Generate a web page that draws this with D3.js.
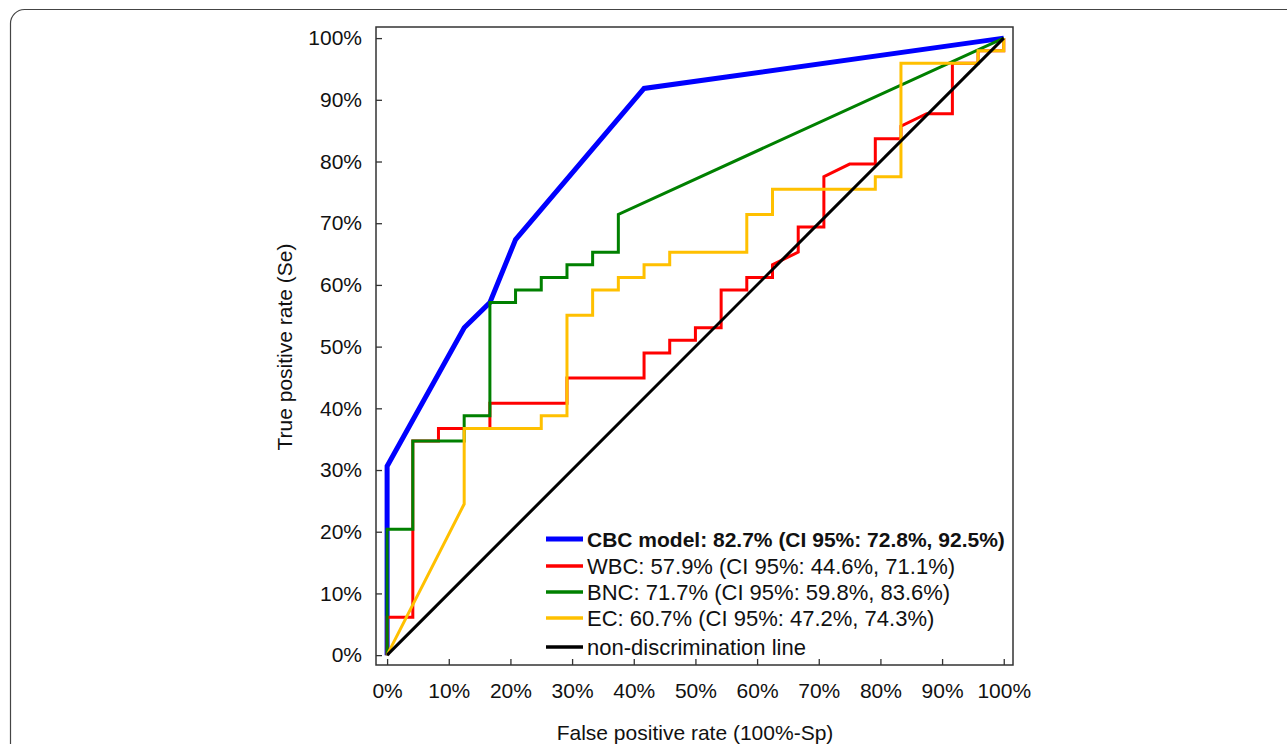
<!DOCTYPE html>
<html>
<head>
<meta charset="utf-8">
<script src="https://cdn.jsdelivr.net/npm/d3@7"></script>
<style>
  body { margin: 0; background: #fff; }
  svg { display: block; font-family: "Liberation Sans", Arial, sans-serif; }
</style>
</head>
<body>
<svg id="chart" width="1287" height="744"></svg>
<script>
// ROC curves, values in percent: [false positive rate, true positive rate]
const cbc = [[0,0],[0,30.61],[12.5,53.06],[16.67,57.14],[20.83,67.35],[41.67,91.84],[100,100]];

const wbc = [[0,0],[0,6.12],[4.17,6.12],[4.17,34.69],[8.33,34.69],[8.33,36.73],[16.67,36.73],
  [16.67,40.82],[29.17,40.82],[29.17,44.9],[41.67,44.9],[41.67,48.98],[45.83,48.98],[45.83,51.02],
  [50,51.02],[50,53.06],[54.17,53.06],[54.17,59.18],[58.33,59.18],[58.33,61.22],[62.5,61.22],
  [62.5,63.27],[66.67,65.31],[66.67,69.39],[70.83,69.39],[70.83,77.55],[75,79.59],[79.17,79.59],
  [79.17,83.67],[83.33,83.67],[83.33,85.71],[87.5,87.76],[91.67,87.76],[91.67,95.92],[95.83,95.92],
  [95.83,97.96],[100,97.96],[100,100]];

const bnc = [[0,0],[0,20.41],[4.17,20.41],[4.17,34.69],[12.5,34.69],[12.5,38.78],[16.67,38.78],
  [16.67,57.14],[20.83,57.14],[20.83,59.18],[25,59.18],[25,61.22],[29.17,61.22],[29.17,63.27],
  [33.33,63.27],[33.33,65.31],[37.5,65.31],[37.5,71.43],[100,100]];

const ec = [[0,0],[12.5,24.49],[12.5,36.73],[25,36.73],[25,38.78],[29.17,38.78],[29.17,55.1],
  [33.33,55.1],[33.33,59.18],[37.5,59.18],[37.5,61.22],[41.67,61.22],[41.67,63.27],[45.83,63.27],
  [45.83,65.31],[58.33,65.31],[58.33,71.43],[62.5,71.43],[62.5,75.51],[79.17,75.51],[79.17,77.55],
  [83.33,77.55],[83.33,95.92],[95.83,95.92],[95.83,97.96],[100,97.96],[100,100]];

const chance = [[0,0],[100,100]];

const tickValues = [0,10,20,30,40,50,60,70,80,90,100];

const seriesNames = ["CBC model: 82.7% (CI 95%: 72.8%, 92.5%)",
  "WBC: 57.9% (CI 95%: 44.6%, 71.1%)",
  "BNC: 71.7% (CI 95%: 59.8%, 83.6%)",
  "EC: 60.7% (CI 95%: 47.2%, 74.3%)",
  "non-discrimination line"];
const seriesColors = ["#0000ff", "#ff0000", "#008000", "#ffc000", "#000000"];

const svg = d3.select("#chart");

// outer card border
svg.append("rect")
  .attr("x", 10.5).attr("y", 9.5)
  .attr("width", 1300).attr("height", 800)
  .attr("rx", 14)
  .attr("fill", "none")
  .attr("stroke", "#444")
  .attr("stroke-width", 1.2);

const x = d3.scaleLinear().domain([-1.8, 101.5]).range([376, 1013]);
const y = d3.scaleLinear().domain([-1.6, 101.8]).range([665, 27]);

// frame
svg.append("rect")
  .attr("x", x(-1.8)).attr("y", y(101.8))
  .attr("width", x(101.5) - x(-1.8))
  .attr("height", y(-1.6) - y(101.8))
  .attr("fill", "none")
  .attr("stroke", "#333")
  .attr("stroke-width", 1.5);

// axes with inward ticks
const xAxis = svg.append("g")
  .attr("transform", `translate(0, ${y(-1.6)})`)
  .call(d3.axisTop(x).tickValues(tickValues).tickSize(6).tickFormat(d => d + "%"));
xAxis.select(".domain").remove();
xAxis.selectAll("line").attr("stroke", "#333").attr("stroke-width", 1.3);
xAxis.selectAll("text")
  .attr("y", 33)
  .attr("font-size", 21)
  .attr("fill", "#111")
  .attr("font-family", "Liberation Sans, Arial, sans-serif");

const yAxis = svg.append("g")
  .attr("transform", `translate(${x(-1.8)}, 0)`)
  .call(d3.axisRight(y).tickValues(tickValues).tickSize(6).tickFormat(d => d + "%"));
yAxis.select(".domain").remove();
yAxis.selectAll("line").attr("stroke", "#333").attr("stroke-width", 1.3);
yAxis.selectAll("text")
  .attr("x", -14)
  .attr("text-anchor", "end")
  .attr("font-size", 21)
  .attr("fill", "#111")
  .attr("font-family", "Liberation Sans, Arial, sans-serif");

// axis titles
svg.append("text")
  .attr("x", 695).attr("y", 740)
  .attr("text-anchor", "middle")
  .attr("font-size", 21)
  .attr("fill", "#111")
  .text("False positive rate (100%-Sp)");

svg.append("text")
  .attr("transform", "translate(292, 347) rotate(-90)")
  .attr("text-anchor", "middle")
  .attr("font-size", 21)
  .attr("fill", "#111")
  .text("True positive rate (Se)");

// curves
const line = d3.line().x(d => x(d[0])).y(d => y(d[1]));
const curves = [
  { data: cbc, color: seriesColors[0], width: 5 },
  { data: wbc, color: seriesColors[1], width: 3 },
  { data: bnc, color: seriesColors[2], width: 3 },
  { data: ec, color: seriesColors[3], width: 3 },
  { data: chance, color: seriesColors[4], width: 3 }
];
svg.append("g")
  .selectAll("path")
  .data(curves)
  .enter()
  .append("path")
  .attr("d", d => line(d.data))
  .attr("fill", "none")
  .attr("stroke", d => d.color)
  .attr("stroke-width", d => d.width)
  .attr("stroke-linejoin", "miter");

// legend
const legendY = [539, 566, 592, 618, 647];
const legendG = svg.append("g");
legendG.selectAll("line")
  .data(seriesNames)
  .enter()
  .append("line")
  .attr("x1", 546).attr("x2", 583)
  .attr("y1", (d, i) => legendY[i]).attr("y2", (d, i) => legendY[i])
  .attr("stroke", (d, i) => seriesColors[i])
  .attr("stroke-width", (d, i) => i === 0 ? 5 : 3.5);
legendG.selectAll("text")
  .data(seriesNames)
  .enter()
  .append("text")
  .attr("x", 587)
  .attr("y", (d, i) => legendY[i] + 8)
  .attr("font-size", (d, i) => i === 0 ? 21 : 22)
  .attr("font-weight", (d, i) => i === 0 ? "bold" : "normal")
  .attr("fill", "#111")
  .text(d => d);
</script>
</body>
</html>
